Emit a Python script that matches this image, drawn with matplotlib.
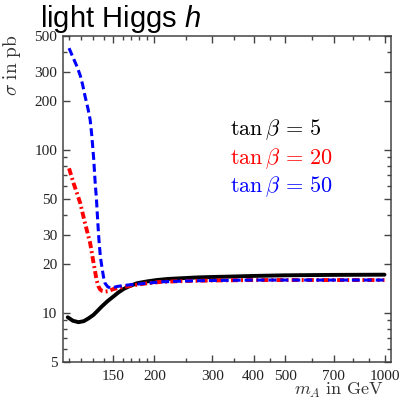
import matplotlib

matplotlib.use("Agg")
import matplotlib.pyplot as plt  # noqa: E402
from matplotlib.ticker import FixedLocator, FixedFormatter, NullFormatter  # noqa: E402

# Production cross section of the light CP-even Higgs vs. m_A
mA_black = [109, 113, 117.5, 122, 126, 130.5, 134, 138, 144, 150, 155, 161, 168,
            177, 190, 203, 220, 240, 270, 300, 340, 400, 500, 700, 1000]
sigma_black = [9.4, 8.95, 8.77, 8.9, 9.25, 9.72, 10.25, 10.9, 11.8, 12.6, 13.3,
               14.0, 14.6, 15.2, 15.6, 15.9, 16.15, 16.3, 16.5, 16.6, 16.7,
               16.85, 17.0, 17.1, 17.15]

mA_red = [110, 113.5, 116, 119, 123, 127.5, 130.6, 133.4, 135, 136.8, 139,
          141.5, 145, 150, 160, 170, 190, 210, 250, 300, 400, 500, 700, 1000]
sigma_red = [77, 62.5, 55, 47, 35.5, 26.8, 20.2, 15.9, 14.6, 13.9, 13.6,
             13.5, 13.6, 14.0, 14.4, 14.7, 15.2, 15.5, 15.7, 15.8, 15.9, 15.9,
             15.9, 15.9]

mA_blue = [110, 113, 116.3, 119, 121, 123.1, 125.5, 127.5, 129, 130.6, 132,
           133.3, 134.5, 135.6, 137, 138.4, 140, 141.5, 144, 146.7, 150, 153.5,
           160, 170, 190, 210, 250, 300, 400, 500, 700, 1000]
sigma_blue = [420, 370, 324, 285, 250, 212, 180, 153, 122, 90, 64, 49.3, 36,
              28, 22, 19.2, 16.6, 15.2, 14.5, 14.2, 14.3, 14.5, 14.7, 14.9,
              15.2, 15.5, 15.7, 15.8, 15.9, 15.9, 15.9, 15.9]

x_major = [150, 200, 300, 400, 500, 700, 1000]
x_minor = [110, 120, 130, 140, 160, 170, 180, 190, 250, 350, 450, 600, 800, 900]
y_major = [5, 10, 20, 30, 50, 100, 200, 300, 500]
y_minor = [6, 7, 8, 9, 40, 60, 70, 80, 90, 400]

plt.rcParams["mathtext.fontset"] = "cm"
plt.rcParams["mathtext.it"] = "Liberation Sans:italic"

fig = plt.figure(figsize=(4, 3.98), dpi=100)
ax = fig.add_axes([0.157, 0.0905, 0.82, 0.8195])
ax.set_xscale("log")
ax.set_yscale("log")
ax.set_xlim(105.3, 1045)
ax.set_ylim(5, 500)

ax.plot(mA_black, sigma_black, color="black", linewidth=2.8,
        solid_capstyle="round", zorder=2)
ax.plot(mA_red, sigma_red, color="#ff0000", linewidth=2.8,
        dashes=(1.8, 0.8, 0.5, 0.8), zorder=3)
ax.plot(mA_blue, sigma_blue, color="#0000ff", linewidth=2.2,
        dashes=(2.6, 1.3), zorder=4)

axis_color = "#444444"
for spine in ax.spines.values():
    spine.set_color(axis_color)
    spine.set_linewidth(1.1)

ax.xaxis.set_major_locator(FixedLocator(x_major))
ax.xaxis.set_major_formatter(FixedFormatter([str(v) for v in x_major]))
ax.xaxis.set_minor_locator(FixedLocator(x_minor))
ax.xaxis.set_minor_formatter(NullFormatter())
ax.yaxis.set_major_locator(FixedLocator(y_major))
ax.yaxis.set_major_formatter(FixedFormatter([str(v) for v in y_major]))
ax.yaxis.set_minor_locator(FixedLocator(y_minor))
ax.yaxis.set_minor_formatter(NullFormatter())

ax.tick_params(which="both", direction="in", top=True, right=True,
               color=axis_color, width=1.0)
ax.tick_params(which="major", length=5)
ax.tick_params(which="minor", length=3)
ax.tick_params(axis="x", which="major", pad=6)
ax.tick_params(axis="y", which="major", pad=4)
for lbl in ax.get_xticklabels() + ax.get_yticklabels():
    lbl.set_fontfamily("Liberation Serif")
    lbl.set_fontsize(11)
    lbl.set_color("#222222")

ax.set_ylabel(r"$\sigma\ \mathrm{in\ pb}$", fontsize=14, color="#333333")
ax.yaxis.set_label_coords(-0.122, 0.91)
fig.text(0.958, 0.02, r"$m_A\ \mathrm{in\ GeV}$", fontsize=13,
         color="#333333", ha="right", va="center")

fig.text(0.1, 0.932, r"light Higgs $h$", fontsize=21, family="Liberation Sans",
         math_fontfamily="custom", ha="left", va="baseline")

ax.text(0.51, 0.711, r"$\tan\beta\,=\,5$", transform=ax.transAxes,
        fontsize=16, color="black", va="center")
ax.text(0.51, 0.622, r"$\tan\beta\,=\,20$", transform=ax.transAxes,
        fontsize=16, color="#ff0000", va="center")
ax.text(0.51, 0.536, r"$\tan\beta\,=\,50$", transform=ax.transAxes,
        fontsize=16, color="#0000ff", va="center")

fig.savefig("out.png", dpi=100)
plt.close(fig)
